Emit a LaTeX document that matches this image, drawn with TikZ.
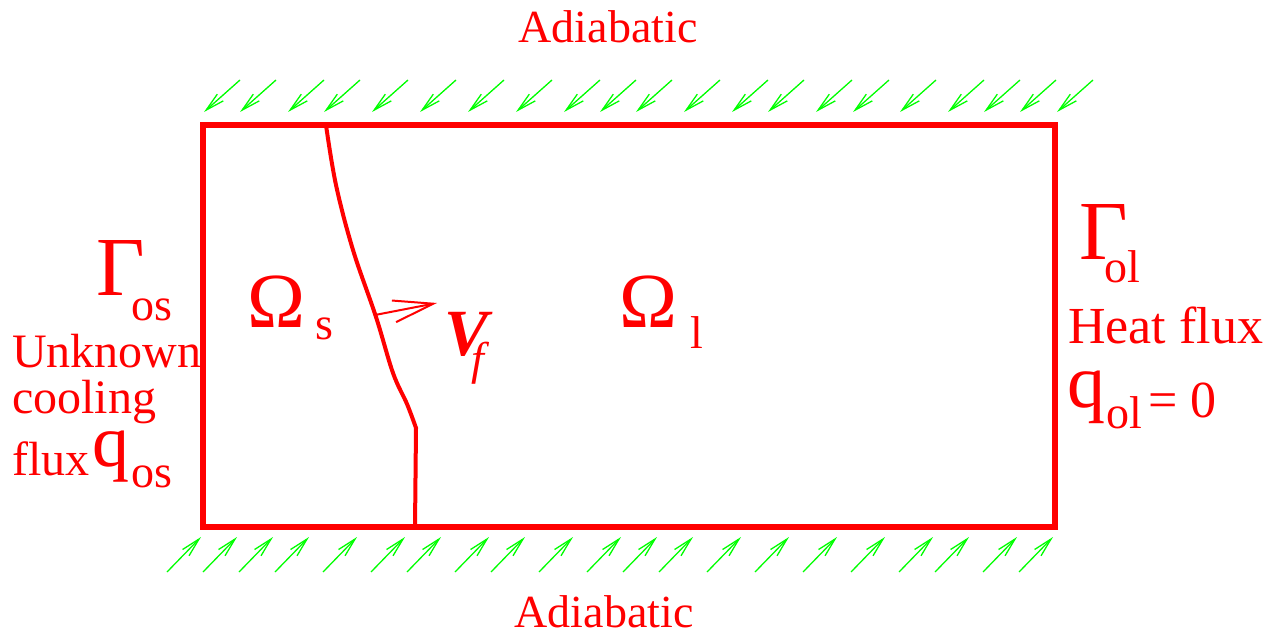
\documentclass[tikz,border=0pt]{standalone}
\usepackage{fontspec}
\setmainfont{Liberation Serif}
\usetikzlibrary{arrows.meta}
\newcommand{\fsz}[1]{\fontsize{#1}{#1}\selectfont}
\begin{document}
\begin{tikzpicture}[x=1pt,y=-1pt,
  lbl/.style={text=red,inner sep=0pt,anchor=base west},
  flux/.style={green,line width=1.3pt,-{Straight Barb[length=19pt,width=9pt,line width=1.3pt]}},
  vel/.style={red,line width=2pt,-{Straight Barb[length=40pt,width=22pt,line width=2pt]}}
]
\useasboundingbox (0,0) rectangle (1276,636);
% domain
\draw[red,line width=5.5pt] (203,125) rectangle (1055,527);
% solidification front
\coordinate (ftop) at (326,125);
\coordinate (fknee) at (416,428);
\coordinate (fbot) at (415,527);
\draw[red,line width=4pt] plot[smooth,tension=0.6] coordinates {(ftop) (336,185) (353,250) (376,317) (393,373) (407,404) (fknee)} -- (fbot);
% velocity arrow
\coordinate (vs) at (375,315);
\coordinate (vt) at (437,303);
\draw[vel] (vs) -- (vt);
% adiabatic flux arrows, top
\foreach \t in {204,240,288,324,372,420,468,516,564,600,636,684,732,768,816,853,900,948,984,1020,1057}{
  \draw[flux] (\t+36,80) -- (\t,112);
}
% adiabatic flux arrows, bottom
\foreach \t in {167,203,239,275,323,371,407,455,491,539,587,623,659,707,755,803,851,899,935,983,1019}{
  \draw[flux] (\t,572) -- (\t+34,537);
}
% labels
\node[lbl,anchor=base] (adtop) at (608,43) {\fsz{46}Adiabatic};
\node[lbl,anchor=base] (adbot) at (604,627) {\fsz{46}Adiabatic};
\node[lbl] (gos) at (96,295) {\fsz{84}Γ};
\node[lbl] (gossub) at (131,320) {\fsz{46}os};
\node[lbl] (unk) at (12,367) {\fsz{48}Unknown};
\node[lbl] (cool) at (12,413) {\fsz{48}cooling};
\node[lbl] (flx) at (12,475) {\fsz{48}flux};
\node[lbl] (qos) at (92,466) {\fsz{74}q};
\node[lbl] (qossub) at (131,487) {\fsz{46}os};
\node[lbl] (gol) at (1079,260) {\fsz{84}Γ};
\node[lbl] (golsub) at (1104,283) {\fsz{46}ol};
\node[lbl] (heat) at (1068,343) {\fsz{52}Heat flux};
\node[lbl] (qol) at (1067,407) {\fsz{76}q};
\node[lbl] (qolsub) at (1106,428) {\fsz{46}ol};
\node[lbl] (qzero) at (1148,417) {\fsz{52}= 0};
\node[lbl] (oms) at (247,327) {\fsz{78}Ω};
\node[lbl] (omssub) at (315,339) {\fsz{46}s};
\node[lbl] (oml) at (619,327) {\fsz{78}Ω};
\node[lbl] (omlsub) at (690,348) {\fsz{46}l};
\node[lbl] (vf) at (444,355) {\fsz{66}\bfseries\itshape V};
\node[lbl] (vfsub) at (471,374) {\fsz{46}\itshape f};
\end{tikzpicture}
\end{document}
